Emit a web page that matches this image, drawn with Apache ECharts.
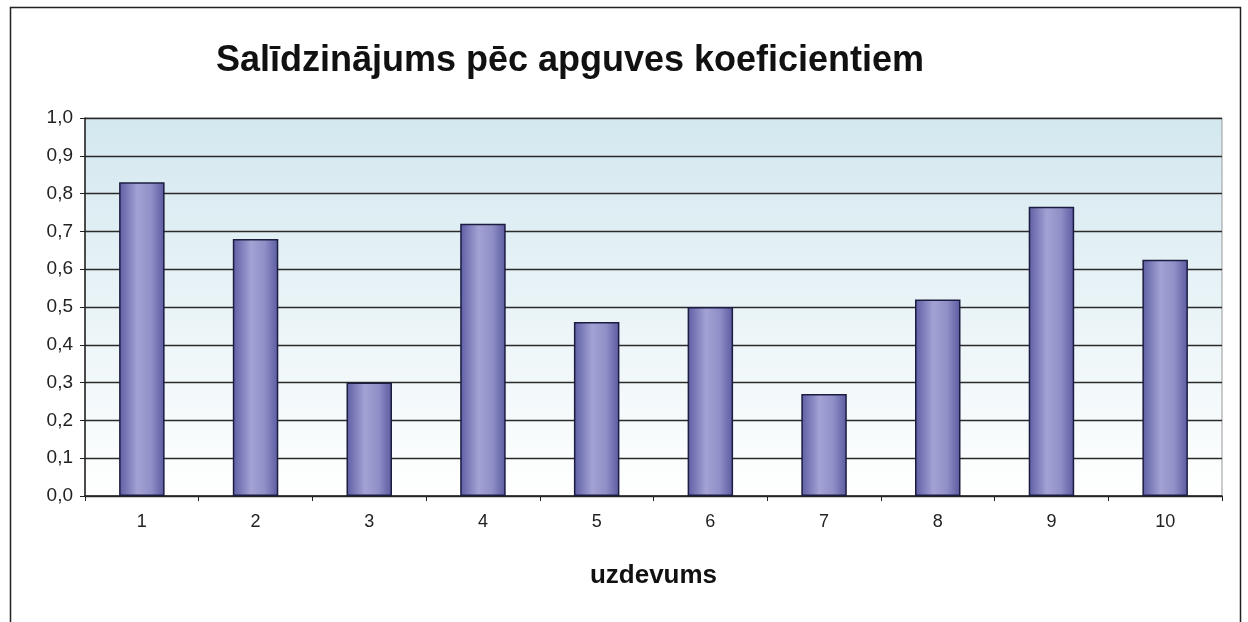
<!DOCTYPE html>
<html>
<head>
<meta charset="utf-8">
<script src="https://cdn.jsdelivr.net/npm/echarts@6/dist/echarts.min.js"></script>
<style>
  html, body { margin: 0; padding: 0; background: #fff; }
  #chart { width: 1248px; height: 622px; }
</style>
</head>
<body>
<div id="chart"></div>
<script>
// Apguves koeficienti pa uzdevumiem
const categories = ['1', '2', '3', '4', '5', '6', '7', '8', '9', '10'];
const coefficients = [0.83, 0.68, 0.30, 0.72, 0.46, 0.50, 0.27, 0.52, 0.765, 0.625];
const yTickLabels = ['0,0', '0,1', '0,2', '0,3', '0,4', '0,5', '0,6', '0,7', '0,8', '0,9', '1,0'];

const chart = echarts.init(document.getElementById('chart'), null, { renderer: 'canvas' });

const option = {
  animation: false,
  textStyle: { fontFamily: 'Liberation Sans, Arial, sans-serif' },
  title: {
    text: 'Salīdzinājums pēc apguves koeficientiem',
    left: 565,
    textAlign: 'center',
    top: 38,
    textStyle: { fontSize: 36, fontWeight: 'bold', color: '#111', fontFamily: 'Liberation Sans, Arial, sans-serif' }
  },
  graphic: [{
    type: 'rect',
    shape: { x: 10.5, y: 7.5, width: 1230, height: 640 },
    style: { fill: 'none', stroke: '#222', lineWidth: 1.5 },
    silent: true
  }],
  grid: {
    left: 85, right: 26, top: 118, bottom: 126,
    show: true,
    borderColor: '#999',
    borderWidth: 1,
    backgroundColor: {
      type: 'linear', x: 0, y: 0, x2: 0, y2: 1,
      colorStops: [
        { offset: 0, color: '#d3e8ef' },
        { offset: 1, color: '#ffffff' }
      ]
    }
  },
  xAxis: {
    type: 'category',
    data: categories,
    name: 'uzdevums',
    nameLocation: 'middle',
    nameGap: 67,
    nameTextStyle: { fontSize: 26, fontWeight: 'bold', color: '#111' },
    axisLine: { show: true, lineStyle: { color: '#222', width: 1.5 } },
    axisTick: { show: true, alignWithLabel: false, length: 5, inside: false, lineStyle: { color: '#222' } },
    axisLabel: { fontSize: 18, color: '#222', margin: 17 },
    splitLine: { show: false }
  },
  yAxis: {
    type: 'value',
    min: 0, max: 1, interval: 0.1,
    axisLine: { show: true, lineStyle: { color: '#222', width: 1.5 } },
    axisTick: { show: true, length: 5, lineStyle: { color: '#222' } },
    axisLabel: {
      fontSize: 19, color: '#222', margin: 12,
      formatter: function (v) { return yTickLabels[Math.round(v * 10)]; }
    },
    splitLine: { show: true, lineStyle: { color: '#2a2a2a', width: 1.3 } }
  },
  series: [{
    type: 'bar',
    data: coefficients,
    barWidth: '40%',
    itemStyle: {
      borderColor: '#1c1c40',
      borderWidth: 1.5,
      color: {
        type: 'linear', x: 0, y: 0, x2: 1, y2: 0,
        colorStops: [
          { offset: 0, color: '#5d5da4' },
          { offset: 0.4, color: '#a2a2d4' },
          { offset: 0.7, color: '#9090c8' },
          { offset: 1, color: '#5a5aa0' }
        ]
      }
    }
  }]
};

chart.setOption(option);
</script>
</body>
</html>
